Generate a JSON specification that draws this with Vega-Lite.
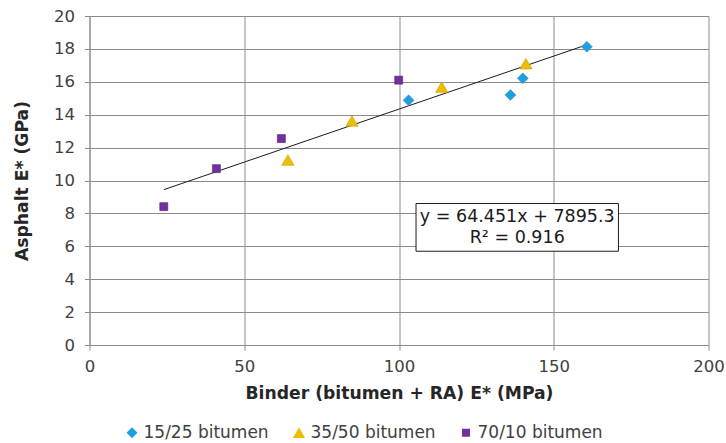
{
  "$schema": "https://vega.github.io/schema/vega-lite/v6.json",
  "width": 619,
  "height": 329,
  "autosize": {"type": "none"},
  "padding": {"left": 89.5, "top": 16, "right": 17.5, "bottom": 98},
  "background": "white",
  "datasets": {
    "points": [
      {"series": "15/25 bitumen", "binder": 103.1, "asphalt": 14.88},
      {"series": "15/25 bitumen", "binder": 136.0, "asphalt": 15.2},
      {"series": "15/25 bitumen", "binder": 140.0, "asphalt": 16.21},
      {"series": "15/25 bitumen", "binder": 160.7, "asphalt": 18.13},
      {"series": "35/50 bitumen", "binder": 64.1, "asphalt": 11.25},
      {"series": "35/50 bitumen", "binder": 84.8, "asphalt": 13.62},
      {"series": "35/50 bitumen", "binder": 113.8, "asphalt": 15.68},
      {"series": "35/50 bitumen", "binder": 141.0, "asphalt": 17.1},
      {"series": "70/10 bitumen", "binder": 24.0, "asphalt": 8.41},
      {"series": "70/10 bitumen", "binder": 41.0, "asphalt": 10.72},
      {"series": "70/10 bitumen", "binder": 62.0, "asphalt": 12.55},
      {"series": "70/10 bitumen", "binder": 99.9, "asphalt": 16.1}
    ],
    "trend": [
      {"binder": 24.0, "asphalt": 9.442},
      {"binder": 161.0, "asphalt": 18.272}
    ],
    "box": [
      {"binder": 105.5, "binder2": 170.9, "asphalt": 5.7, "asphalt2": 8.6}
    ],
    "label": [
      {"binder": 138.2, "asphalt": 7.76, "text": "y = 64.451x + 7895.3"},
      {"binder": 138.2, "asphalt": 6.5, "text": "R² = 0.916"}
    ]
  },
  "encoding": {
    "x": {"field": "binder", "type": "quantitative", "scale": {"domain": [0, 200], "nice": false},
          "axis": {"values": [0, 50, 100, 150, 200], "title": "Binder (bitumen + RA) E* (MPa)"}},
    "y": {"field": "asphalt", "type": "quantitative", "scale": {"domain": [0, 20], "nice": false},
          "axis": {"values": [0, 2, 4, 6, 8, 10, 12, 14, 16, 18, 20], "labelOverlap": false, "title": "Asphalt E* (GPa)"}}
  },
  "layer": [
    {
      "data": {"name": "trend"},
      "mark": {"type": "line", "color": "#1a1a1a", "strokeWidth": 1}
    },
    {
      "data": {"name": "points"},
      "mark": {"type": "point", "filled": true, "opacity": 1, "strokeWidth": 0.6},
      "encoding": {
        "color": {"field": "series", "type": "nominal",
                  "scale": {"domain": ["15/25 bitumen", "35/50 bitumen", "70/10 bitumen"], "range": ["#1ca0e0", "#eebd00", "#7030a0"]},
                  "legend": {"orient": "none", "legendX": 34, "legendY": 408, "direction": "horizontal", "title": null,
                             "labelFontSize": 17, "labelColor": "#404040", "symbolSize": 50, "columnPadding": 21, "labelOffset": 3,
                             "symbolStrokeWidth": 0}},
        "shape": {"field": "series", "type": "nominal",
                  "scale": {"domain": ["15/25 bitumen", "35/50 bitumen", "70/10 bitumen"], "range": ["diamond", "triangle-up", "square"]}},
        "size": {"field": "series", "type": "nominal", "legend": null,
                 "scale": {"type": "ordinal", "domain": ["15/25 bitumen", "35/50 bitumen", "70/10 bitumen"], "range": [121, 150, 64]}},
        "stroke": {"field": "series", "type": "nominal", "legend": null,
                   "scale": {"domain": ["15/25 bitumen", "35/50 bitumen", "70/10 bitumen"], "range": ["#5a8fb0", "#c9a000", "#5a2080"]}}
      }
    },
    {
      "data": {"name": "box"},
      "mark": {"type": "rect", "fill": "white", "stroke": "#1a1a1a", "strokeWidth": 1},
      "encoding": {
        "x2": {"field": "binder2"},
        "y2": {"field": "asphalt2"}
      }
    },
    {
      "data": {"name": "label"},
      "mark": {"type": "text", "fontSize": 17.5, "color": "#1a1a1a", "align": "center", "baseline": "middle"},
      "encoding": {
        "text": {"field": "text"}
      }
    }
  ],
  "config": {
    "font": "DejaVu Sans",
    "view": {"stroke": null},
    "axis": {
      "grid": true, "gridColor": "#8c8c8c", "gridWidth": 1,
      "domainColor": "#8c8c8c", "tickColor": "#8c8c8c", "tickSize": 5,
      "labelFontSize": 16.5, "labelColor": "#404040", "labelFlush": false,
      "titleFontSize": 17.2, "titleFontWeight": "bold", "titleColor": "#262626"
    },
    "axisX": {"labelPadding": 8, "titlePadding": 10},
    "axisY": {"labelPadding": 10, "titlePadding": 22}
  }
}
